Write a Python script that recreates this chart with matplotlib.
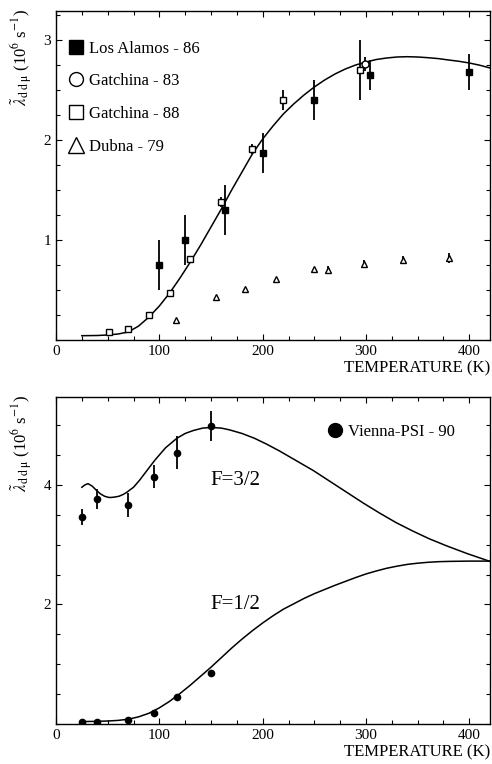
import matplotlib
matplotlib.use('Agg')
import matplotlib.pyplot as plt
from matplotlib.lines import Line2D
from matplotlib.ticker import MultipleLocator, FixedLocator

plt.rcParams['font.family'] = ['Liberation Serif', 'DejaVu Serif']
plt.rcParams['mathtext.fontset'] = 'stix'
plt.rcParams['font.size'] = 11

# ---- top panel data ----
la_T = [100, 125, 164, 200, 250, 304, 400]
la_rate = [0.75, 1.00, 1.30, 1.87, 2.40, 2.65, 2.68]
la_err = [0.25, 0.25, 0.25, 0.20, 0.20, 0.15, 0.18]

g83_T = [299.5]
g83_rate = [2.76]
g83_err = [0.07]

g88_T = [51.5, 70, 90, 110, 130, 159.5, 190, 219.5, 294]
g88_rate = [0.08, 0.11, 0.25, 0.47, 0.81, 1.38, 1.91, 2.40, 2.70]
g88_err = [0.0, 0.0, 0.0, 0.0, 0.0, 0.05, 0.05, 0.10, 0.30]

dub_T = [116.5, 154.5, 183, 213, 250, 263, 298, 335.5, 380]
dub_rate = [0.20, 0.43, 0.51, 0.61, 0.71, 0.70, 0.76, 0.80, 0.82]
dub_err = [0.0, 0.0, 0.0, 0.0, 0.0, 0.04, 0.04, 0.04, 0.05]

theory_T = [25, 40, 50, 60, 70, 80, 90, 100, 110, 120, 130, 140, 150, 160,
            170, 180, 190, 200, 210, 220, 230, 240, 250, 260, 270, 280, 290,
            300, 310, 320, 330, 340, 350, 360, 370, 380, 390, 400, 410, 420]
theory_rate = [0.043, 0.045, 0.05, 0.06, 0.08, 0.14, 0.23, 0.34, 0.47, 0.62,
               0.78, 0.95, 1.13, 1.31, 1.50, 1.68, 1.86, 2.01, 2.14, 2.26,
               2.36, 2.45, 2.53, 2.60, 2.66, 2.71, 2.75, 2.78, 2.805, 2.82,
               2.83, 2.833, 2.83, 2.823, 2.814, 2.80, 2.787, 2.77, 2.748, 2.72]

# ---- bottom panel data ----
psi_T = [25.4, 40, 70, 94.7, 117, 149.8]
psi32_rate = [3.46, 3.76, 3.67, 4.14, 4.54, 4.98]
psi32_err = [0.13, 0.17, 0.20, 0.19, 0.28, 0.25]
psi12_rate = [0.04, 0.04, 0.07, 0.19, 0.46, 0.86]
psi12_err = [0.0, 0.0, 0.0, 0.0, 0.0, 0.04]

f32_T = [25, 28, 31, 35, 39, 43, 47, 51, 54, 58, 61, 65, 68, 75, 81, 88, 96,
         106, 117, 125, 133, 142, 150, 160, 168, 180, 192, 204, 216, 232, 249,
         265, 281, 297, 313, 329, 345, 361, 378, 398, 420]
f32_rate = [3.96, 4.00, 4.02, 3.98, 3.91, 3.85, 3.81, 3.79, 3.79, 3.80,
            3.81, 3.84, 3.87, 3.96, 4.08, 4.24, 4.42, 4.62, 4.78, 4.86,
            4.91, 4.95, 4.96, 4.95, 4.92, 4.86, 4.78, 4.68, 4.57, 4.41,
            4.24, 4.06, 3.88, 3.70, 3.53, 3.37, 3.23, 3.10, 2.98, 2.85, 2.72]

f12_T = [25, 40, 50, 60, 70, 80, 90, 100, 110, 120, 130, 140, 150, 160, 170,
         180, 190, 200, 210, 220, 230, 240, 250, 260, 270, 280, 290, 300, 310,
         320, 330, 340, 350, 360, 370, 380, 400, 420]
f12_rate = [0.04, 0.045, 0.05, 0.06, 0.08, 0.12, 0.18, 0.27, 0.38, 0.51,
            0.65, 0.80, 0.95, 1.11, 1.27, 1.42, 1.56, 1.69, 1.81, 1.92,
            2.01, 2.10, 2.18, 2.25, 2.32, 2.385, 2.45, 2.51, 2.56, 2.605,
            2.64, 2.67, 2.69, 2.705, 2.715, 2.72, 2.725, 2.725]

temp_ticks = [0, 100, 200, 300, 400]

fig = plt.figure(figsize=(4.92, 7.64), dpi=100)
ax1 = fig.add_axes([56 / 492, 1 - 340 / 764, 434 / 492, 329 / 764])
ax2 = fig.add_axes([56 / 492, 1 - 724 / 764, 434 / 492, 327 / 764])

ebkw = dict(linestyle='none', ecolor='black', elinewidth=1.3, capsize=0,
            markeredgecolor='black', markeredgewidth=1.0)

ax1.plot(theory_T, theory_rate, color='black', lw=1.1, zorder=2)
ax1.errorbar(la_T, la_rate, yerr=la_err, fmt='s', ms=4.5, mfc='black', **ebkw, zorder=3)
ax1.errorbar(g83_T, g83_rate, yerr=g83_err, fmt='o', ms=5, mfc='white', **ebkw, zorder=3)
ax1.errorbar(g88_T, g88_rate, yerr=g88_err, fmt='s', ms=5, mfc='white', **ebkw, zorder=3)
ax1.errorbar(dub_T, dub_rate, yerr=dub_err, fmt='^', ms=5, mfc='white', **ebkw, zorder=3)

ax2.plot(f32_T, f32_rate, color='black', lw=1.1, zorder=2)
ax2.plot(f12_T, f12_rate, color='black', lw=1.1, zorder=2)
ax2.errorbar(psi_T, psi32_rate, yerr=psi32_err, fmt='o', ms=4.5, mfc='black', **ebkw, zorder=3)
ax2.errorbar(psi_T, psi12_rate, yerr=psi12_err, fmt='o', ms=4.5, mfc='black', **ebkw, zorder=3)

ax2.text(149, 4.08, 'F=3/2', fontsize=15, va='center', ha='left')
ax2.text(149, 2.0, 'F=1/2', fontsize=15, va='center', ha='left')

# legends
h1 = [Line2D([], [], ls='none', marker='s', ms=10, mfc='black', mec='black'),
      Line2D([], [], ls='none', marker='o', ms=10, mfc='white', mec='black'),
      Line2D([], [], ls='none', marker='s', ms=10, mfc='white', mec='black'),
      Line2D([], [], ls='none', marker='^', ms=11, mfc='white', mec='black')]
ax1.legend(h1, ['Los Alamos - 86', 'Gatchina - 83', 'Gatchina - 88', 'Dubna - 79'],
           loc='center left', bbox_to_anchor=(0.031, 0.737), frameon=False,
           handlelength=0.8, handletextpad=0.4, labelspacing=1.0, fontsize=12,
           borderpad=0, borderaxespad=0)
h2 = [Line2D([], [], ls='none', marker='o', ms=10, mfc='black', mec='black')]
ax2.legend(h2, ['Vienna-PSI - 90'], loc='center left',
           bbox_to_anchor=(0.627, (724 - 431.7) / 327), frameon=False,
           handlelength=0.8, handletextpad=0.4, fontsize=12,
           borderpad=0, borderaxespad=0)

for ax, ylim, major, minor in [(ax1, (0, 3.29), [1, 2, 3], 0.25),
                               (ax2, (0, 5.47), [2, 4], 0.5)]:
    ax.set_xlim(0, 420)
    ax.set_ylim(*ylim)
    ax.xaxis.set_major_locator(FixedLocator(temp_ticks))
    ax.xaxis.set_minor_locator(MultipleLocator(25))
    ax.yaxis.set_major_locator(FixedLocator(major))
    ax.yaxis.set_minor_locator(MultipleLocator(minor))
    ax.tick_params(which='both', direction='in', top=True, right=True,
                   width=0.8, labelsize=11)
    ax.tick_params(which='major', length=4)
    ax.tick_params(which='minor', length=3)
    for s in ax.spines.values():
        s.set_linewidth(1.0)
    ax.set_xlabel('TEMPERATURE (K)', fontsize=12, loc='right', labelpad=2)

ylab = r'$\tilde{\lambda}_{\rm d\;d\;\mu}$ (10$^6$ s$^{-1}$)'
fig.text(21 / 492, 1 - 9 / 764, ylab, rotation=90, ha='center', va='top', fontsize=12)
fig.text(21 / 492, 1 - 395 / 764, ylab, rotation=90, ha='center', va='top', fontsize=12)

fig.savefig('out.png', dpi=100)
